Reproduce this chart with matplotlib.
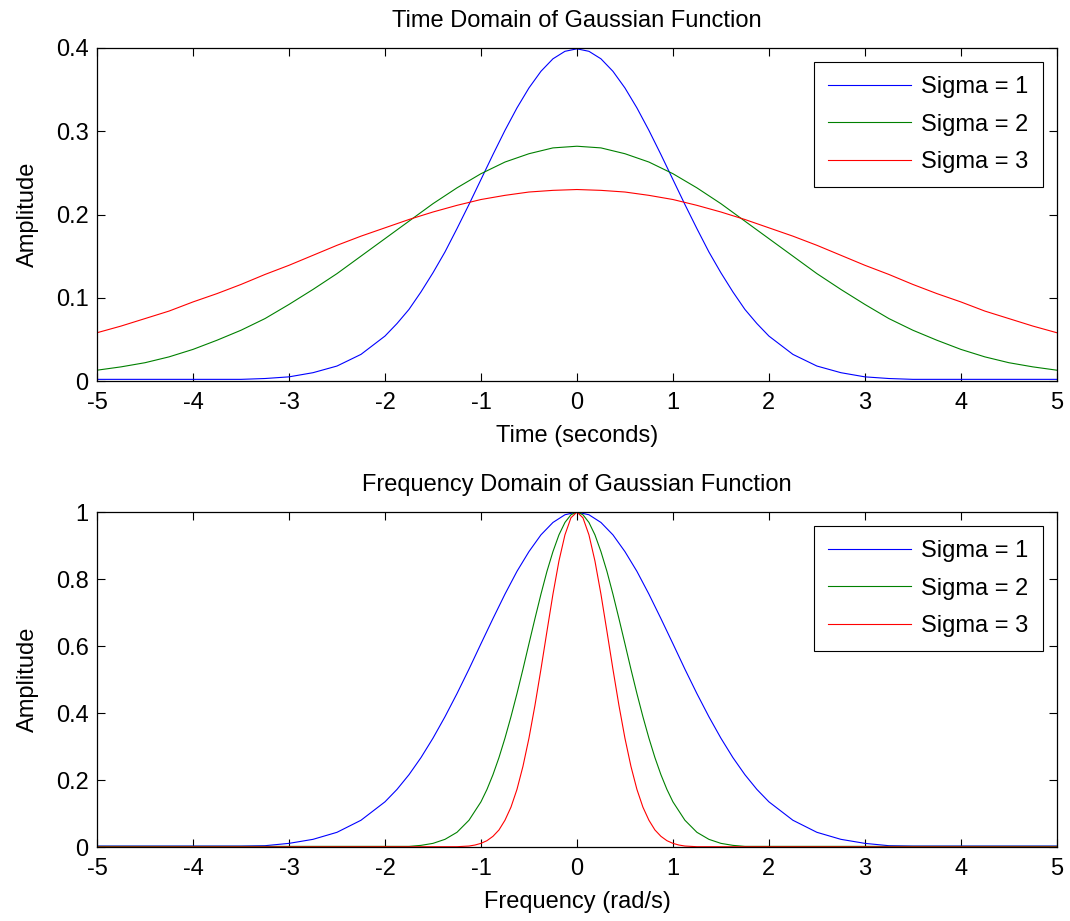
import matplotlib
matplotlib.use("Agg")
import matplotlib.pyplot as plt

plt.rcParams['font.family'] = ['Liberation Sans', 'DejaVu Sans']
plt.rcParams['axes.unicode_minus'] = False

# time domain samples
t = [-5.0, -4.75, -4.5, -4.25, -4.0, -3.75, -3.5, -3.25, -3.0, -2.75, -2.5,
     -2.25, -2.0, -1.75, -1.5, -1.25, -1.0, -0.75, -0.5, -0.25, 0.0,
     0.25, 0.5, 0.75, 1.0, 1.25, 1.5, 1.75, 2.0, 2.25, 2.5,
     2.75, 3.0, 3.25, 3.5, 3.75, 4.0, 4.25, 4.5, 4.75, 5.0]
t_fine = [-5.0, -4.75, -4.5, -4.25, -4.0, -3.75, -3.5, -3.25, -3.0, -2.75, -2.5, -2.25,
          -2.0, -1.875, -1.75, -1.625, -1.5, -1.375, -1.25, -1.125,
          -1.0, -0.875, -0.75, -0.625, -0.5, -0.375, -0.25, -0.125, 0.0,
          0.125, 0.25, 0.375, 0.5, 0.625, 0.75, 0.875, 1.0,
          1.125, 1.25, 1.375, 1.5, 1.625, 1.75, 1.875, 2.0,
          2.25, 2.5, 2.75, 3.0, 3.25, 3.5, 3.75, 4.0, 4.25, 4.5, 4.75, 5.0]
time_s1 = [0.002, 0.002, 0.002, 0.002, 0.002, 0.002, 0.002, 0.003, 0.005, 0.010, 0.018, 0.032,
           0.054, 0.069, 0.086, 0.107, 0.130, 0.155, 0.183, 0.212,
           0.242, 0.272, 0.301, 0.328, 0.352, 0.372, 0.387, 0.396, 0.399,
           0.396, 0.387, 0.372, 0.352, 0.328, 0.301, 0.272, 0.242,
           0.212, 0.183, 0.155, 0.130, 0.107, 0.086, 0.069, 0.054,
           0.032, 0.018, 0.010, 0.005, 0.003, 0.002, 0.002, 0.002, 0.002, 0.002, 0.002, 0.002]
time_s2 = [0.013, 0.017, 0.022, 0.029, 0.038, 0.049, 0.061, 0.075, 0.092, 0.110, 0.129,
           0.150, 0.171, 0.192, 0.213, 0.232, 0.249, 0.263, 0.273, 0.280, 0.282,
           0.280, 0.273, 0.263, 0.249, 0.232, 0.213, 0.192, 0.171, 0.150, 0.129,
           0.110, 0.092, 0.075, 0.061, 0.049, 0.038, 0.029, 0.022, 0.017, 0.013]
time_s3 = [0.058, 0.066, 0.075, 0.084, 0.095, 0.105, 0.116, 0.128, 0.139, 0.151, 0.163,
           0.174, 0.184, 0.194, 0.203, 0.211, 0.218, 0.223, 0.227, 0.229, 0.230,
           0.229, 0.227, 0.223, 0.218, 0.211, 0.203, 0.194, 0.184, 0.174, 0.163,
           0.151, 0.139, 0.128, 0.116, 0.105, 0.095, 0.084, 0.075, 0.066, 0.058]

# frequency domain samples
w1 = t_fine
freq_s1 = [0.003, 0.003, 0.003, 0.003, 0.003, 0.003, 0.003, 0.004, 0.011, 0.023, 0.044, 0.080,
           0.135, 0.172, 0.216, 0.267, 0.325, 0.389, 0.458, 0.531,
           0.607, 0.682, 0.755, 0.823, 0.882, 0.932, 0.969, 0.992, 1.000,
           0.992, 0.969, 0.932, 0.882, 0.823, 0.755, 0.682, 0.607,
           0.531, 0.458, 0.389, 0.325, 0.267, 0.216, 0.172, 0.135,
           0.080, 0.044, 0.023, 0.011, 0.004, 0.003, 0.003, 0.003, 0.003, 0.003, 0.003, 0.003]

w2 = [-5.0, -2.0, -1.875, -1.75, -1.625, -1.5, -1.375, -1.25, -1.125,
      -1.0, -0.9375, -0.875, -0.8125, -0.75, -0.6875, -0.625, -0.5625,
      -0.5, -0.4375, -0.375, -0.3125, -0.25, -0.1875, -0.125, -0.0625, 0.0,
      0.0625, 0.125, 0.1875, 0.25, 0.3125, 0.375, 0.4375, 0.5,
      0.5625, 0.625, 0.6875, 0.75, 0.8125, 0.875, 0.9375, 1.0,
      1.125, 1.25, 1.375, 1.5, 1.625, 1.75, 1.875, 2.0, 5.0]
freq_s2 = [0.002, 0.002, 0.002, 0.002, 0.005, 0.011, 0.023, 0.044, 0.080,
           0.135, 0.172, 0.216, 0.267, 0.325, 0.389, 0.458, 0.531,
           0.607, 0.682, 0.755, 0.823, 0.882, 0.932, 0.969, 0.992, 1.000,
           0.992, 0.969, 0.932, 0.882, 0.823, 0.755, 0.682, 0.607,
           0.531, 0.458, 0.389, 0.325, 0.267, 0.216, 0.172, 0.135,
           0.080, 0.044, 0.023, 0.011, 0.005, 0.002, 0.002, 0.002, 0.002]

w3 = [-5.0, -1.25, -1.1875, -1.125, -1.0625, -1.0, -0.9375, -0.875, -0.8125, -0.75,
      -0.6875, -0.625, -0.5625, -0.5, -0.4375, -0.375, -0.3125, -0.25,
      -0.1875, -0.125, -0.0625, 0.0, 0.0625, 0.125, 0.1875, 0.25,
      0.3125, 0.375, 0.4375, 0.5, 0.5625, 0.625, 0.6875, 0.75,
      0.8125, 0.875, 0.9375, 1.0, 1.0625, 1.125, 1.1875, 1.25, 5.0]
freq_s3 = [0.0, 0.001, 0.002, 0.003, 0.006, 0.011, 0.019, 0.032, 0.051, 0.080,
           0.119, 0.172, 0.241, 0.325, 0.423, 0.531, 0.644, 0.755,
           0.854, 0.932, 0.983, 1.000, 0.983, 0.932, 0.854, 0.755,
           0.644, 0.531, 0.423, 0.325, 0.241, 0.172, 0.119, 0.080,
           0.051, 0.032, 0.019, 0.011, 0.006, 0.003, 0.002, 0.001, 0.0]

labels = ['Sigma = 1', 'Sigma = 2', 'Sigma = 3']
colors = ['#0000ff', '#008000', '#ff0000']
fs = 17

fig = plt.figure(figsize=(10.7, 9.21), dpi=100)
ax1 = fig.add_axes([0.0907, 0.5863, 0.897, 0.3616])
ax2 = fig.add_axes([0.0907, 0.0803, 0.897, 0.3637])

for ax, xs, ys in [(ax1, [t_fine, t, t], [time_s1, time_s2, time_s3]),
                   (ax2, [w1, w2, w3], [freq_s1, freq_s2, freq_s3])]:
    for x, y, c, lab in zip(xs, ys, colors, labels):
        ax.plot(x, y, color=c, lw=0.8, label=lab)
    ax.set_xlim(-5, 5)
    ax.set_xticks(range(-5, 6))
    ax.tick_params(direction='in', top=True, right=True, labelsize=fs, length=6, width=0.8)
    ax.tick_params(axis='x', pad=8)
    ax.tick_params(axis='y', pad=6)
    for s in ax.spines.values():
        s.set_linewidth(0.9)
    leg = ax.legend(loc='upper right', fontsize=fs, handlelength=3.5, handletextpad=0.45,
                    fancybox=False, edgecolor='black', framealpha=1,
                    borderaxespad=0.6, borderpad=0.6, labelspacing=0.65)
    leg.get_frame().set_linewidth(0.8)
    ax.set_ylabel('Amplitude', fontsize=fs, labelpad=12)

ax1.set_ylim(0, 0.4)
ax1.set_yticks([0, 0.1, 0.2, 0.3, 0.4])
ax1.set_yticklabels(['0', '0.1', '0.2', '0.3', '0.4'])
ax1.set_title('Time Domain of Gaussian Function', fontsize=fs, pad=15)
ax1.set_xlabel('Time (seconds)', fontsize=fs, labelpad=8)

ax2.set_ylim(0, 1)
ax2.set_yticks([0, 0.2, 0.4, 0.6, 0.8, 1])
ax2.set_yticklabels(['0', '0.2', '0.4', '0.6', '0.8', '1'])
ax2.set_title('Frequency Domain of Gaussian Function', fontsize=fs, pad=15)
ax2.set_xlabel('Frequency (rad/s)', fontsize=fs, labelpad=8)

fig.savefig('out.png', dpi=100)
